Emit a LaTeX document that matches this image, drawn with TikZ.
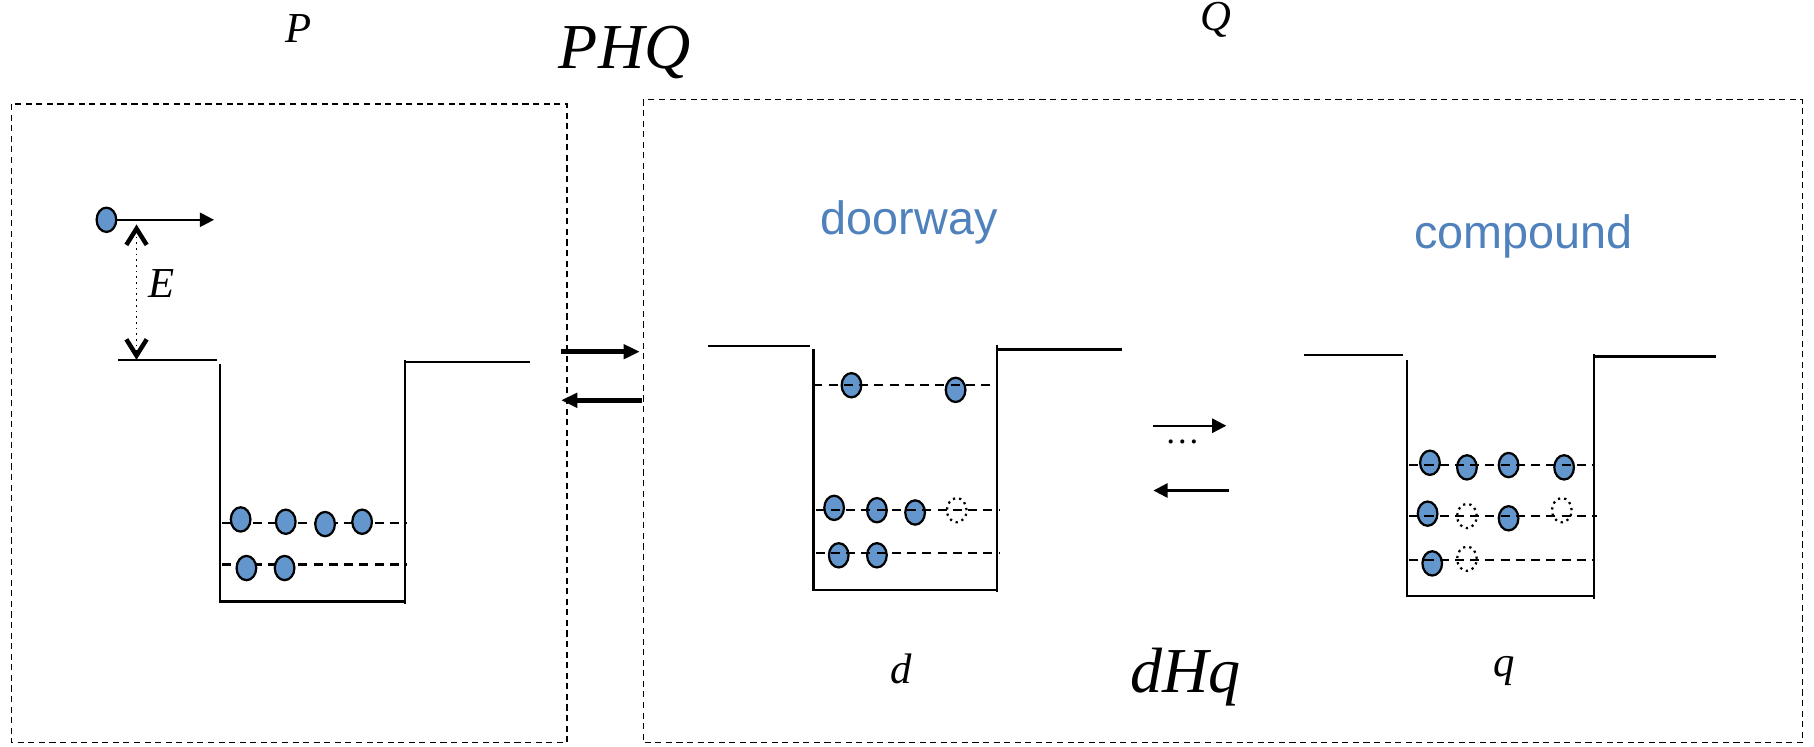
\documentclass[tikz,border=0pt]{standalone}
\usepackage{fontspec}
\setmainfont{Liberation Serif}
\setsansfont{Liberation Sans}
\usetikzlibrary{arrows.meta,shapes.geometric}

\definecolor{elecblue}{RGB}{98,150,204}
\definecolor{labelblue}{RGB}{79,129,189}

\begin{document}
\begin{tikzpicture}[x=0.02cm,y=-0.02cm,
          every node/.style={font=\fontsize{21}{25}\selectfont\itshape},
          elec/.style={ellipse,draw,line width=1.1pt,fill=elecblue,
                       minimum width=0.34cm,minimum height=0.42cm,inner sep=0pt},
          hole/.style={ellipse,draw,dotted,line width=1.1pt,
                       minimum width=0.34cm,minimum height=0.42cm,inner sep=0pt},
          wall/.style={line width=1.2pt},
          level/.style={line width=1.1pt,dash pattern=on 4.5pt off 3pt},
          region/.style={line width=0.7pt,dash pattern=on 3pt off 2.2pt},
          bigtxt/.style={font=\fontsize{31.5}{36}\selectfont\itshape},
          tag/.style={font=\fontsize{23}{28}\selectfont\sffamily,text=labelblue},
          swap/.style={line width=2.4pt,-{Triangle[length=8pt,width=7pt]}},
          hop/.style={line width=1.1pt,-{Triangle[length=7pt,width=7pt]}}]
        \useasboundingbox (0,0) rectangle (1568,645);
        % spaces P and Q
        \draw[region] (10,90) rectangle (490,642);
        \draw[region] (556,86) rectangle (1558,642);
        \node (lblP) at (258,25) {P};
        \node (lblQ) at (1051,17) {Q};
        \node[bigtxt] (lblPHQ) at (540,45) {PHQ};
        \node[bigtxt] (lbldHq) at (1025,585) {dHq};
        % coupling P <-> Q
        \coordinate (pq1) at (485,304); \coordinate (pq2) at (553,304);
        \coordinate (qp1) at (555,346); \coordinate (qp2) at (485,346);
        \draw[swap] (pq1) -- (pq2);
        \draw[swap] (qp1) -- (qp2);
        % incoming particle
        \node[elec] (inc) at (92,190) {};
        \coordinate (incgo) at (185,190);
        \draw[hop] (inc) -- (incgo);
        \coordinate (etop) at (118,194); \coordinate (ebot) at (118,311);
        \draw[dotted,line width=0.8pt,
              {Straight Barb[length=8pt,width=10pt,line width=2.2pt]}-{Straight Barb[length=8pt,width=10pt,line width=2.2pt]}]
              (etop) -- (ebot);
        \node (lblE) at (140,245) {E};
        % well in P
        \draw[wall] (102,311) -- (188,311);
        \draw[wall] (190,315) -- (190,520) -- (349,520);
        \draw[wall] (350,311) -- (350,522);
        \draw[wall] (350,313) -- (458,313);
        \draw[level] (192,452) -- (352,452);
        \draw[level] (192,488) -- (352,488);
        \node[elec] (p1) at (208,449) {}; \node[elec] (p2) at (247,451) {};
        \node[elec] (p3) at (281,453) {}; \node[elec] (p4) at (313,451) {};
        \node[elec] (p5) at (213,491) {}; \node[elec] (p6) at (246,491) {};
        % doorway well
        \node[tag] (lbldoor) at (786,192) {doorway};
        \draw[wall] (612,299) -- (700,299);
        \draw[wall] (703,302) -- (703,510) -- (861,510);
        \draw[wall] (862,298) -- (862,512);
        \draw[wall] (862,302) -- (970,302);
        \node[elec] (d1) at (736,333) {}; \node[elec] (d2) at (826,337) {};
        \node[elec] (d3) at (721,439) {}; \node[elec] (d4) at (758,441) {};
        \node[elec] (d5) at (791,443) {}; \node[hole] (d6) at (827,441) {};
        \node[elec] (d7) at (725,480) {}; \node[elec] (d8) at (758,480) {};
        \draw[level] (703,333) -- (862,333);
        \draw[level] (705,441) -- (864,441);
        \draw[level] (705,478) -- (864,478);
        \node (lbld) at (779,578) {d};
        % d <-> q
        \coordinate (dq1) at (997,368); \coordinate (dq2) at (1060,368);
        \coordinate (qd1) at (1062,424); \coordinate (qd2) at (997,424);
        \draw[hop] (dq1) -- (dq2);
        \node[font=\fontsize{17}{20}\selectfont,anchor=base] (dots) at (1022,383) {\dots};
        \draw[hop] (qd1) -- (qd2);
        % compound well
        \node[tag] (lblcomp) at (1317,204) {compound};
        \draw[wall] (1127,307) -- (1213,307);
        \draw[wall] (1216,311) -- (1216,515) -- (1378,515);
        \draw[wall] (1378,306) -- (1378,518);
        \draw[wall] (1378,308) -- (1483,308);
        \node[elec] (c1) at (1236,400) {}; \node[elec] (c2) at (1268,404) {};
        \node[elec] (c3) at (1304,402) {}; \node[elec] (c4) at (1352,404) {};
        \node[elec] (c5) at (1234,444) {}; \node[hole] (c6) at (1268,446) {};
        \node[elec] (c7) at (1304,448) {}; \node[hole] (c8) at (1350,441) {};
        \node[elec] (c9) at (1238,487) {}; \node[hole] (c10) at (1268,483) {};
        \draw[level] (1218,402) -- (1378,402);
        \draw[level] (1218,446) -- (1380,446);
        \draw[level] (1218,484) -- (1378,484);
        \node (lblq) at (1300,580) {q};
      \end{tikzpicture}
\end{document}
